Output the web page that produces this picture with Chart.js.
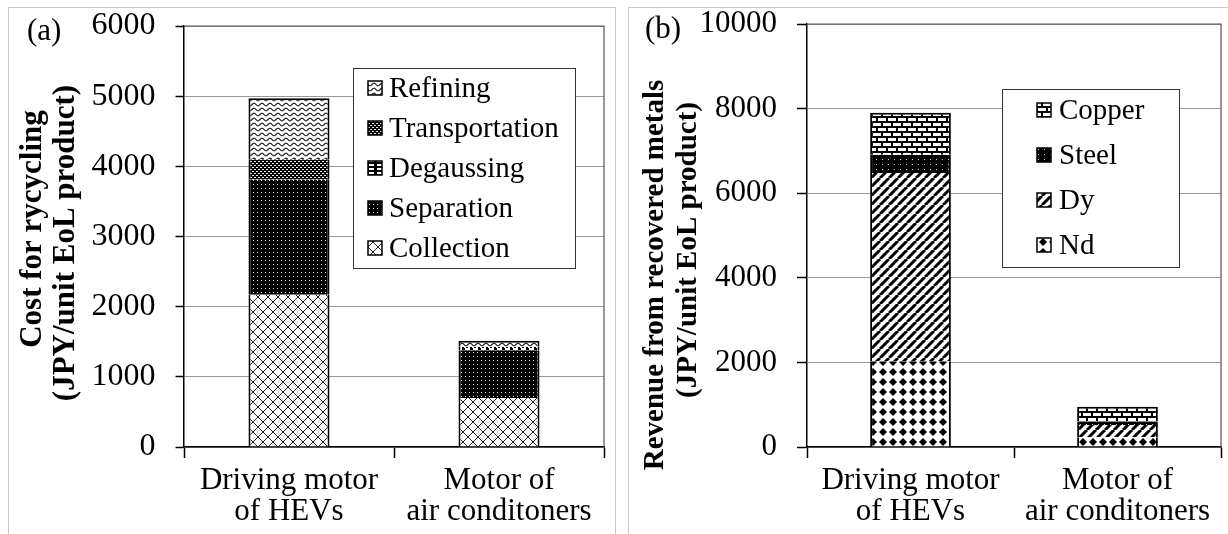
<!DOCTYPE html>
<html>
<head>
<meta charset="utf-8">
<script src="https://cdn.jsdelivr.net/npm/chart.js@4.4.1/dist/chart.umd.min.js"></script>
<style>
  html, body { margin: 0; padding: 0; background: #fff; }
  #wrap { position: relative; width: 1228px; height: 534px; overflow: hidden; }
  canvas { position: absolute; }
  .frame { position: absolute; box-sizing: border-box; border: 1px solid #c8c8c8; pointer-events: none; }
</style>
</head>
<body>
<div id="wrap">
  <canvas id="costChart" width="607" height="527" style="left:8px;top:7px;width:607px;height:527px"></canvas>
  <canvas id="revChart" width="600" height="527" style="left:628px;top:7px;width:600px;height:527px"></canvas>
  <div class="frame" style="left:8px;top:7px;width:608px;height:540px"></div>
  <div class="frame" style="left:628px;top:7px;width:610px;height:540px"></div>
</div>
<script>
// ---- data -------------------------------------------------------------------
const products = [["Driving motor", "of HEVs"], ["Motor of", "air conditoners"]];

// (a) cost for recycling, JPY / unit EoL product
const collection = [2170, 700];
const separation = [1640, 680];
const degaussing = [0, 30];
const transportation = [290, 20];
const refining = [870, 85];

// (b) revenue from recovered metals, JPY / unit EoL product
const nd = [2030, 230];
const dy = [4450, 290];
const steel = [430, 80];
const copper = [990, 350];

const costTicks = { max: 6000, step: 1000 };
const revTicks = { max: 10000, step: 2000 };

// ---- look ---------------------------------------------------------------------
const SERIF = "'Liberation Serif', 'Times New Roman', serif";
Chart.defaults.font.family = SERIF;
Chart.defaults.color = "#000";
Chart.defaults.animation = false;

// small repeating tiles standing in for the Excel hatch fills
function tile(w, h, draw) {
  const c = document.createElement("canvas");
  c.width = w; c.height = h;
  const g = c.getContext("2d");
  draw(g, w, h);
  return g.createPattern(c, "repeat");
}
const PAT = {
  cross: tile(10, 10, (g) => {
    g.fillStyle = "#fff"; g.fillRect(0, 0, 10, 10);
    g.strokeStyle = "#222"; g.lineWidth = 1;
    g.beginPath(); g.moveTo(0, 0); g.lineTo(10, 10); g.moveTo(10, 0); g.lineTo(0, 10); g.stroke();
  }),
  darkDots: tile(4, 4, (g) => {
    g.fillStyle = "#000"; g.fillRect(0, 0, 4, 4);
    g.fillStyle = "#ddd"; g.fillRect(1, 1, 1, 1);
  }),
  dash: tile(8, 4, (g) => {
    g.fillStyle = "#000"; g.fillRect(0, 0, 8, 4);
    g.fillStyle = "#fff"; g.fillRect(1, 1, 5, 2);
  }),
  grayDots: tile(4, 4, (g) => {
    g.fillStyle = "#000"; g.fillRect(0, 0, 4, 4);
    g.fillStyle = "#eee"; g.fillRect(0, 0, 2, 1); g.fillRect(2, 2, 2, 1);
  }),
  wave: tile(8, 5, (g) => {
    g.fillStyle = "#fff"; g.fillRect(0, 0, 8, 5);
    g.strokeStyle = "#111"; g.lineWidth = 1.1;
    g.beginPath();
    for (let x = 0; x <= 8; x += 0.5) {
      const y = 2.5 + 1.3 * Math.sin((x / 8) * Math.PI * 2);
      x === 0 ? g.moveTo(x, y) : g.lineTo(x, y);
    }
    g.stroke();
  }),
  brick: tile(10, 10, (g) => {
    g.fillStyle = "#000"; g.fillRect(0, 0, 10, 10);
    g.fillStyle = "#fff"; g.fillRect(0, 1, 8, 3); g.fillRect(5, 6, 8, 3); g.fillRect(-5, 6, 8, 3);
  }),
  steelDots: tile(6, 5, (g) => {
    g.fillStyle = "#000"; g.fillRect(0, 0, 6, 5);
    g.fillStyle = "#ccc"; g.fillRect(2, 2, 1, 1);
  }),
  diag: tile(9, 9, (g) => {
    g.fillStyle = "#fff"; g.fillRect(0, 0, 9, 9);
    g.strokeStyle = "#000"; g.lineWidth = 3;
    g.beginPath();
    for (const k of [-9, 0, 9]) { g.moveTo(k, 9); g.lineTo(k + 9, 0); }
    g.stroke();
  }),
  diamond: tile(10, 10, (g) => {
    g.fillStyle = "#fff"; g.fillRect(0, 0, 10, 10);
    g.fillStyle = "#000";
    g.beginPath(); g.moveTo(5, 1); g.lineTo(9, 5); g.lineTo(5, 9); g.lineTo(1, 5); g.closePath(); g.fill();
  }),
};

// top segment of each stack gets the black cap, all get the side outline
function edge(ctx) {
  const sets = ctx.chart.data.datasets;
  let top = true;
  for (let k = ctx.datasetIndex + 1; k < sets.length; k++) if (sets[k].data[ctx.dataIndex] > 0) top = false;
  return { left: 2, right: 2, top: top ? 2 : 0, bottom: 0 };
}

// dark top/right border of the plot area
const plotFrame = {
  id: "plotFrame",
  beforeDatasetsDraw(chart) {
    const { ctx, chartArea: a } = chart;
    ctx.save();
    ctx.strokeStyle = "#555"; ctx.lineWidth = 1.2;
    ctx.beginPath(); ctx.moveTo(a.left, a.top); ctx.lineTo(a.right, a.top); ctx.lineTo(a.right, a.bottom); ctx.stroke();
    ctx.restore();
  },
};

// boxed legend inside the plot, series listed top-down in reverse stack order
const boxLegend = {
  id: "boxLegend",
  afterDraw(chart, args, o) {
    const ctx = chart.ctx;
    ctx.save();
    ctx.fillStyle = "#fff"; ctx.fillRect(o.x, o.y, o.w, o.h);
    ctx.strokeStyle = "#333"; ctx.lineWidth = 1; ctx.strokeRect(o.x + 0.5, o.y + 0.5, o.w, o.h);
    ctx.font = `${o.size}px ${SERIF}`;
    ctx.textBaseline = "middle";
    chart.data.datasets.slice().reverse().forEach((ds, k) => {
      const cy = o.y + o.first + k * o.row;
      ctx.fillStyle = ds.backgroundColor; ctx.fillRect(o.iconX, cy - 7, 14, 14);
      ctx.strokeStyle = "#000"; ctx.lineWidth = 1.5; ctx.strokeRect(o.iconX, cy - 7, 14, 14);
      ctx.fillStyle = "#000"; ctx.fillText(ds.label, o.textX, cy + 1);
    });
    ctx.restore();
  },
};

// panel tag "(a)" and the two-line rotated y title (each line centred on its own spot)
const panelText = {
  id: "panelText",
  afterDraw(chart, args, o) {
    const ctx = chart.ctx;
    ctx.save();
    ctx.fillStyle = "#000";
    ctx.textBaseline = "middle";
    ctx.font = `${o.tagSize}px ${SERIF}`;
    ctx.fillText(o.tag, o.tagX, o.tagY);
    ctx.font = `bold ${o.titleSize}px ${SERIF}`;
    ctx.textAlign = "center";
    for (const ln of o.title) {
      ctx.save();
      ctx.translate(ln.x, ln.y);
      ctx.rotate(-Math.PI / 2);
      ctx.fillText(ln.text, 0, 0);
      ctx.restore();
    }
    ctx.restore();
  },
};

function stackedBars(canvasId, datasets, t, lay) {
  return new Chart(document.getElementById(canvasId), {
    type: "bar",
    data: { labels: products, datasets },
    options: {
      responsive: false,
      layout: { padding: { left: 0, top: lay.top, right: lay.right, bottom: 0 } },
      datasets: { bar: { categoryPercentage: 1, barPercentage: lay.bar, borderColor: "#000", borderWidth: edge } },
      scales: {
        x: {
          stacked: true, offset: true,
          grid: { offset: true, drawOnChartArea: false, tickLength: 11, tickColor: "#000", tickWidth: 1.5 },
          border: { color: "#000", width: 1.5 },
          ticks: { font: { size: 31, lineHeight: 1 }, padding: 7.5, maxRotation: 0, autoSkip: false },
          afterFit: (s) => { s.height = 87; s.paddingLeft = 0; s.paddingRight = 0; },
        },
        y: {
          stacked: true, min: 0, max: t.max,
          ticks: { stepSize: t.step, font: { size: lay.tickSize, lineHeight: 1 }, padding: 20, callback: (v) => String(v) },
          grid: { color: "#9a9a9a", lineWidth: 1, tickLength: lay.tick, tickColor: "#000", tickWidth: 1.5 },
          border: { color: "#000", width: 1.5 },
          afterFit: (s) => { s.width = lay.left; s.paddingTop = 0; s.paddingBottom = 0; },
        },
      },
      plugins: {
        legend: { display: false },
        tooltip: { enabled: false },
        boxLegend: lay.legend,
        panelText: lay.text,
      },
    },
    plugins: [plotFrame, boxLegend, panelText],
  });
}

stackedBars("costChart", [
  { label: "Collection", data: collection, backgroundColor: PAT.cross },
  { label: "Separation", data: separation, backgroundColor: PAT.darkDots },
  { label: "Degaussing", data: degaussing, backgroundColor: PAT.dash },
  { label: "Transportation", data: transportation, backgroundColor: PAT.grayDots },
  { label: "Refining", data: refining, backgroundColor: PAT.wave },
], costTicks, {
  top: 19, right: 11, left: 176, bar: 0.386, tick: 8.5, tickSize: 32,
  legend: { x: 345, y: 61, w: 222, h: 200, first: 20, row: 40, iconX: 360, textX: 381, size: 29 },
  text: {
    tag: "(a)", tagX: 19, tagY: 25, tagSize: 31, titleSize: 31,
    title: [{ text: "Cost for rycycling", x: 25, y: 222 }, { text: "(JPY/unit EoL product)", x: 58, y: 236 }],
  },
});

stackedBars("revChart", [
  { label: "Nd", data: nd, backgroundColor: PAT.diamond },
  { label: "Dy", data: dy, backgroundColor: PAT.diag },
  { label: "Steel", data: steel, backgroundColor: PAT.steelDots },
  { label: "Copper", data: copper, backgroundColor: PAT.brick },
], revTicks, {
  top: 17, right: 7, left: 179, bar: 0.39, tick: 10, tickSize: 31,
  legend: { x: 374, y: 82, w: 177, h: 178, first: 21, row: 45, iconX: 409, textX: 431, size: 29 },
  text: {
    tag: "(b)", tagX: 17, tagY: 23, tagSize: 31, titleSize: 29,
    title: [{ text: "Revenue from recovered metals", x: 28, y: 268 }, { text: "(JPY/unit EoL product)", x: 61, y: 243 }],
  },
});
</script>
</body>
</html>
